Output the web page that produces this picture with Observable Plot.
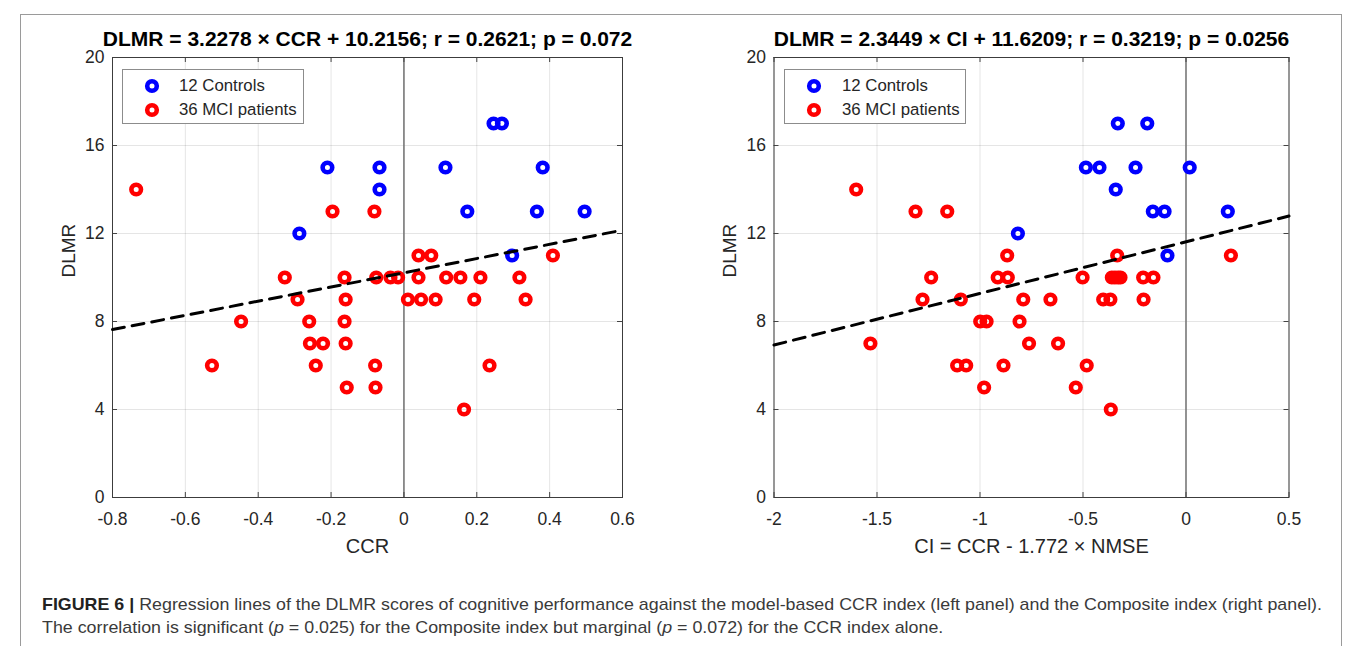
<!DOCTYPE html>
<html><head><meta charset="utf-8">
<script src="https://cdn.jsdelivr.net/npm/d3@7"></script>
<script src="https://cdn.jsdelivr.net/npm/@observablehq/plot@0.6"></script>
<style>
body{margin:0;background:#fff;}
#page{position:relative;width:1357px;height:646px;overflow:hidden;font-family:"Liberation Sans",Arial,sans-serif;background:#fff;}
.panel{position:absolute;top:0;}
.legend{position:absolute;border:1px solid #8c8c8c;background:#fff;font-size:16.8px;color:#262626;width:180px;height:53px;}
.legend svg{position:absolute;}
.legend span{position:absolute;line-height:20px;}
#frame{position:absolute;left:20px;top:14px;width:1320px;height:660px;border:1px solid #9a9a9a;}
.cap{position:absolute;left:42px;white-space:nowrap;font-family:"Liberation Sans",Arial,sans-serif;font-size:17px;color:#3a3a3a;transform-origin:0 50%;}
.cap b{color:#222;}
</style></head><body><div id="page">
<div id="frame"></div>
<div id="left" class="panel" style="left:0px"></div>
<div id="right" class="panel" style="left:680px"></div>
<div id="cap1" class="cap" style="top:595px"><b>FIGURE 6 |</b> Regression lines of the DLMR scores of cognitive performance against the model-based CCR index (left panel) and the Composite index (right panel).</div>
<div id="cap2" class="cap" style="top:618px">The correlation is significant (<i>p</i> = 0.025) for the Composite index but marginal (<i>p</i> = 0.072) for the CCR index alone.</div>
</div>
<script>
// ---------- data ----------
const seriesNames = ["12 Controls", "36 MCI patients"];
const seriesColors = ["#0000ff", "#ff0000"];

// Left panel: DLMR vs CCR
const ctrlCCR  = [-0.287, -0.210, -0.067, -0.067, 0.114, 0.174, 0.246, 0.269, 0.297, 0.365, 0.381, 0.496];
const ctrlDLMR_L = [12, 15, 15, 14, 15, 13, 17, 17, 11, 13, 15, 13];
const mciCCR = [-0.735, -0.196, -0.081, 0.040, 0.075, 0.409,
  -0.327, -0.163, -0.076, -0.037, -0.016, 0.040, 0.116, 0.155, 0.210, 0.317,
  -0.292, -0.160, 0.011, 0.047, 0.087, 0.193, 0.334,
  -0.447, -0.260, -0.163,
  -0.258, -0.222, -0.160,
  -0.527, -0.242, -0.079, 0.235,
  -0.157, -0.078,
  0.165];
const mciDLMR_L = [14, 13, 13, 11, 11, 11,
  10, 10, 10, 10, 10, 10, 10, 10, 10, 10,
  9, 9, 9, 9, 9, 9, 9,
  8, 8, 8,
  7, 7, 7,
  6, 6, 6, 6,
  5, 5,
  4];

// Right panel: DLMR vs CI
const ctrlCI = [-0.816, -0.331, -0.188, -0.486, -0.420, -0.245, 0.018, -0.341, -0.161, -0.104, 0.203, -0.090];
const ctrlDLMR_R = [12, 17, 17, 15, 15, 15, 15, 14, 13, 13, 13, 11];
const mciCI = [-1.601, -1.313, -1.159, -0.868, -0.334, 0.218,
  -1.237, -0.914, -0.865, -0.502, -0.360, -0.345, -0.330, -0.318, -0.208, -0.158,
  -1.279, -1.093, -0.790, -0.658, -0.402, -0.367, -0.206,
  -0.999, -0.968, -0.808,
  -1.532, -0.762, -0.621,
  -1.111, -1.067, -0.886, -0.482,
  -0.980, -0.535,
  -0.365];
const mciDLMR_R = [14, 13, 13, 11, 11, 11,
  10, 10, 10, 10, 10, 10, 10, 10, 10, 10,
  9, 9, 9, 9, 9, 9, 9,
  8, 8, 8,
  7, 7, 7,
  6, 6, 6, 6,
  5, 5,
  4];

// regression coefficients (from titles)
const fitSlope = [3.2278, 2.3449];
const fitIntercept = [10.2156, 11.6209];

const titles = ["DLMR = 3.2278 \u00d7 CCR + 10.2156; r = 0.2621; p = 0.072",
                "DLMR = 2.3449 \u00d7 CI + 11.6209; r = 0.3219; p = 0.0256"];
const xLabels = ["CCR", "CI = CCR - 1.772 \u00d7 NMSE"];
const yLabel = "DLMR";
const xTicksL = [-0.8, -0.6, -0.4, -0.2, 0, 0.2, 0.4, 0.6];
const xTicksR = [-2, -1.5, -1, -0.5, 0, 0.5];
const yTicks = [0, 4, 8, 12, 16, 20];

// ---------- drawing ----------
const FONT = "Liberation Sans, Arial, sans-serif";
function panel(cfg) {
  const {width, mL, mR, xDomain, xTicks, ctrlX, ctrlY, mciX, mciY, slope, intercept, title, xLabel} = cfg;
  const height = 570, mT = 57, mB = 73;
  const fh = height - mT - mB, fw = width - mL - mR;
  const ctrl = ctrlX.map((x, i) => ({x, y: ctrlY[i]}));
  const mci = mciX.map((x, i) => ({x, y: mciY[i]}));
  const fit = xDomain.map(x => ({x, y: slope * x + intercept}));
  return Plot.plot({
    width, height, marginLeft: mL, marginRight: mR, marginTop: mT, marginBottom: mB,
    x: {domain: xDomain}, y: {domain: [0, 20]},
    style: {fontFamily: FONT, color: "#262626", background: "transparent", overflow: "visible"},
    marks: [
      Plot.gridX(xTicks, {stroke: "#000", strokeOpacity: 0.1, strokeWidth: 1}),
      Plot.gridY(yTicks, {stroke: "#000", strokeOpacity: 0.1, strokeWidth: 1}),
      Plot.ruleX([0], {stroke: "#7a7a7a", strokeWidth: 1.6}),
      Plot.tickX(xTicks, {x: d => d, insetTop: fh - 5, stroke: "#444"}),
      Plot.tickX(xTicks, {x: d => d, insetBottom: fh - 5, stroke: "#444"}),
      Plot.tickY(yTicks, {y: d => d, insetLeft: fw - 5, stroke: "#444"}),
      Plot.tickY(yTicks, {y: d => d, insetRight: fw - 5, stroke: "#444"}),
      Plot.frame({stroke: "#3c3c3c", strokeWidth: 1}),
      Plot.axisX(xTicks, {anchor: "bottom", tickSize: 0, tickPadding: 15, tickFormat: d => String(d), label: null, fontSize: 17.5}),
      Plot.axisY(yTicks, {anchor: "left", tickSize: 0, tickPadding: 8, tickFormat: d => String(d), label: null, fontSize: 17.5}),
      Plot.dot(mci, {x: "x", y: "y", r: 4.8, stroke: seriesColors[1], strokeWidth: 4.6, fill: "none"}),
      Plot.dot(ctrl, {x: "x", y: "y", r: 4.8, stroke: seriesColors[0], strokeWidth: 4.6, fill: "none"}),
      Plot.line(fit, {x: "x", y: "y", stroke: "#000", strokeWidth: 3, strokeDasharray: "12,8"}),
      Plot.text([title], {text: d => d, frameAnchor: "top", dy: -26, fontWeight: "bold", fontSize: 21, fill: "#000"}),
      Plot.text([xLabel], {text: d => d, frameAnchor: "bottom", dy: 55, fontSize: 20, fill: "#262626"}),
      Plot.text([yLabel], {text: d => d, frameAnchor: "left", dx: -44, rotate: -90, fontSize: 19, fill: "#262626"})
    ]
  });
}

document.getElementById("left").append(panel({
  width: 680, mL: 112, mR: 58, xDomain: [-0.8, 0.6], xTicks: xTicksL,
  ctrlX: ctrlCCR, ctrlY: ctrlDLMR_L, mciX: mciCCR, mciY: mciDLMR_L,
  slope: fitSlope[0], intercept: fitIntercept[0], title: titles[0], xLabel: xLabels[0]
}));
document.getElementById("right").append(panel({
  width: 677, mL: 93.5, mR: 68.5, xDomain: [-2, 0.5], xTicks: xTicksR,
  ctrlX: ctrlCI, ctrlY: ctrlDLMR_R, mciX: mciCI, mciY: mciDLMR_R,
  slope: fitSlope[1], intercept: fitIntercept[1], title: titles[1], xLabel: xLabels[1]
}));

// legends
function legend(left, top, textLeft) {
  const lg = document.createElement("div");
  lg.className = "legend";
  lg.style.left = left + "px"; lg.style.top = top + "px";
  seriesNames.forEach((name, i) => {
    const cy = 15.5 + i * 24.5;
    const s = document.createElementNS("http://www.w3.org/2000/svg", "svg");
    s.setAttribute("width", 20); s.setAttribute("height", 20);
    s.style.left = (29 - 10) + "px"; s.style.top = (cy - 10) + "px";
    s.innerHTML = `<circle cx="10" cy="10" r="4.8" fill="none" stroke="${seriesColors[i]}" stroke-width="4.6"/>`;
    lg.append(s);
    const t = document.createElement("span");
    t.textContent = name;
    t.style.left = textLeft + "px"; t.style.top = (cy - 10) + "px";
    lg.append(t);
  });
  document.getElementById("page").append(lg);
}
legend(122, 69, 56);
legend(784, 69, 57);

// fit caption lines to the reference line width
const cap1 = document.getElementById("cap1");
const k = 1280 / cap1.getBoundingClientRect().width;
cap1.style.transform = `scaleX(${k})`;
document.getElementById("cap2").style.transform = `scaleX(${k})`;
</script>
</body></html>
